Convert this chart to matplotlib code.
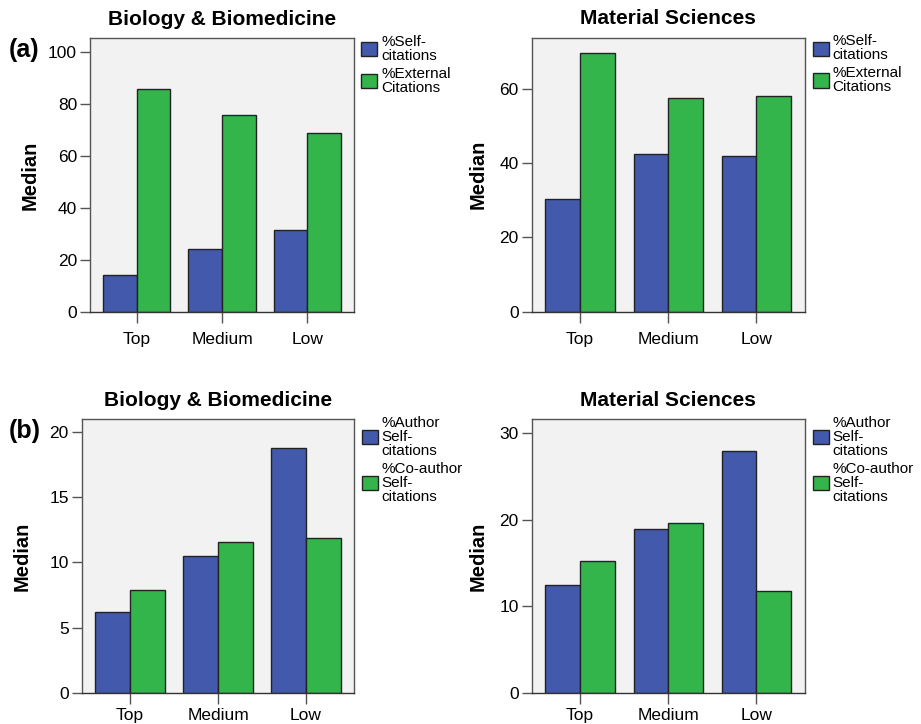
import matplotlib.pyplot as plt
import numpy as np
from matplotlib.patches import Patch

plt.rcParams['font.family'] = ['Liberation Sans', 'DejaVu Sans']

# 데이터
categories = ['Top', 'Medium', 'Low']

bio_self = [14.2, 24.2, 31.4]
bio_external = [85.8, 75.9, 68.8]
mat_self = [30.4, 42.4, 41.9]
mat_external = [69.6, 57.5, 58.1]

bio_author = [6.2, 10.5, 18.8]
bio_coauthor = [7.85, 11.6, 11.85]
mat_author = [12.45, 18.95, 27.9]
mat_coauthor = [15.2, 19.6, 11.7]

labels_a = ['%Self-\ncitations', '%External\nCitations']
labels_b = ['%Author\nSelf-\ncitations', '%Co-author\nSelf-\ncitations']

blue = '#4259ac'
green = '#33b54b'

fig = plt.figure(figsize=(9.21, 7.24), dpi=100)

# 각 패널 위치 [left, bottom, width, height], 제목, 두 계열, 범례, y 최대값, y 눈금, 태그, ylabel 위치(px), x 라벨 간격
panels = [
    ([0.0977, 0.5691, 0.2867, 0.3784], 'Biology & Biomedicine', bio_self, bio_external, labels_a, 105.3, [0, 20, 40, 60, 80, 100], '(a)', 50, 7),
    ([0.5773, 0.5695, 0.2967, 0.3785], 'Material Sciences', mat_self, mat_external, labels_a, 73.8, [0, 20, 40, 60], None, 44, 7),
    ([0.0887, 0.0432, 0.2960, 0.3781], 'Biology & Biomedicine', bio_author, bio_coauthor, labels_b, 21.0, [0, 5, 10, 15, 20], '(b)', 50, 3),
    ([0.5773, 0.0432, 0.2967, 0.3777], 'Material Sciences', mat_author, mat_coauthor, labels_b, 31.6, [0, 10, 20, 30], None, 44, 3),
]

x = np.arange(len(categories))
w = 0.395

for rect, title, s1, s2, labels, ymax, yticks, tag, lab_px, xpad in panels:
    ax = fig.add_axes(rect)
    ax.set_facecolor('#f2f2f2')
    ax.bar(x - w / 2, s1, w, color=blue, edgecolor='#222222', linewidth=1.0)
    ax.bar(x + w / 2, s2, w, color=green, edgecolor='#222222', linewidth=1.0)
    ax.set_xlim(-0.55, 2.55)
    ax.set_ylim(0, ymax)
    ax.set_yticks(yticks)
    ax.set_xticks(x)
    ax.set_xticklabels(categories, fontsize=12.5)
    ax.tick_params(axis='y', labelsize=12.5, length=7.3, width=1, color='#555555', pad=2)
    ax.tick_params(axis='x', length=7.7, width=1, color='#555555', pad=xpad)
    for sp in ax.spines.values():
        sp.set_color('#555555')
        sp.set_linewidth(1.0)
    ax.spines['bottom'].set_color('#333333')
    ax.set_title(title, fontsize=15, fontweight='bold', pad=9.5)
    ax.set_ylabel('Median', fontsize=14.5, fontweight='bold')
    ax.yaxis.set_label_coords(-lab_px / (rect[2] * 921), 0.5)
    handles = [Patch(facecolor=blue, edgecolor='#222222'), Patch(facecolor=green, edgecolor='#222222')]
    leg = ax.legend(handles, labels, loc='upper left', bbox_to_anchor=(1.028, 1.012), frameon=False,
                    fontsize=11, handlelength=1.05, handleheight=1.05, handletextpad=0.25,
                    labelspacing=0.25, borderaxespad=0, borderpad=0)
    for t in leg.get_texts():
        t.set_linespacing(1.0)
    if tag:
        fig.text(0.009, rect[1] + rect[3] - 0.016, tag, fontsize=18, fontweight='bold', va='center')

fig.savefig('out.png', dpi=100)
